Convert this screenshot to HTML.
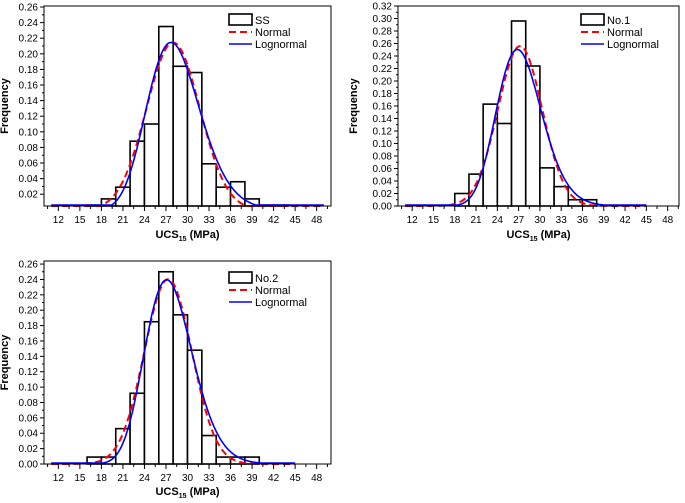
<!DOCTYPE html>
<html><head><meta charset="utf-8">
<style>
html,body{margin:0;padding:0;background:#fff;}
svg{display:block;font-family:"Liberation Sans",Arial,sans-serif;}
</style></head>
<body>
<svg id="root" width="685" height="503" viewBox="0 0 685 503" xmlns="http://www.w3.org/2000/svg"></svg>
<script>
// ---- data ----
const binStarts1 = [16,18,20,22,24,26,28,30,32,34,36,38,40,42];
const freq1 = [0.006,0.014,0.029,0.088,0.110,0.235,0.184,0.176,0.059,0.029,0.036,0.014,0.006,0.006];
const binStarts2 = [18,20,22,24,26,28,30,32,34,36];
const freq2 = [0.020,0.051,0.163,0.132,0.296,0.224,0.061,0.031,0.010,0.010];
const binStarts3 = [16,18,20,22,24,26,28,30,32,34,36,38];
const freq3 = [0.009,0.009,0.046,0.092,0.185,0.250,0.194,0.148,0.037,0.009,0.009,0.009];
// fit params: [mean, sd]
const normal1 = [28.0, 3.72];
const normal2 = [27.2, 3.12];
const normal3 = [27.3, 3.32];
// lognormal: [median, log-sigma]
const lognorm1 = [28.2, 0.133];
const lognorm2 = [27.2, 0.118];
const lognorm3 = [27.5, 0.122];
const xTicks = [12,15,18,21,24,27,30,33,36,39,42,45,48];
const yTicks1 = [0.02,0.04,0.06,0.08,0.10,0.12,0.14,0.16,0.18,0.20,0.22,0.24,0.26];
const yTicks2 = [0.00,0.02,0.04,0.06,0.08,0.10,0.12,0.14,0.16,0.18,0.20,0.22,0.24,0.26,0.28,0.30,0.32];
const yTicks3 = [0.00,0.02,0.04,0.06,0.08,0.10,0.12,0.14,0.16,0.18,0.20,0.22,0.24,0.26];
const legendNames = ["SS","No.1","No.2"];

const NS="http://www.w3.org/2000/svg";
const root=document.getElementById('root');
function mk(tag,attrs,parent){const e=document.createElementNS(NS,tag);for(const k in attrs)e.setAttribute(k,attrs[k]);(parent||root).appendChild(e);return e;}

function chart(c){
  const g=mk('g',{});
  
  
  const sx=v=>c.L+(v-c.x0)/(c.x1-c.x0)*(c.R-c.L);
  const sy=v=>c.B-(v-c.y0)/(c.y1-c.y0)*(c.B-c.T);
  // bars
  c.bins.forEach((b,i)=>{
    const y=sy(c.freq[i]);
    const r=mk('rect',{x:sx(b),y:y,width:sx(b+2)-sx(b),height:c.B-y,fill:'#fff',stroke:'#000','stroke-width':1.6},g);
    
    
  });
  // curves
  const pts1=[],pts2=[];
  for(let x=c.cx0;x<=c.cx1+1e-9;x+=0.1){
    const n=2*Math.exp(-0.5*((x-c.norm[0])/c.norm[1])**2)/(c.norm[1]*Math.sqrt(2*Math.PI));
    const mu=Math.log(c.logn[0]),s=c.logn[1];
    const l=2*Math.exp(-0.5*((Math.log(x)-mu)/s)**2)/(x*s*Math.sqrt(2*Math.PI));
    pts1.push(sx(x).toFixed(1)+','+Math.min(sy(n),c.B).toFixed(1));
    pts2.push(sx(x).toFixed(1)+','+Math.min(sy(l),c.B-1).toFixed(1));
  }
  const pn=mk('polyline',{points:pts1.join(' '),fill:'none',stroke:'#f00','stroke-width':2,'stroke-dasharray':'7,4'},g);
  
  
  const pl=mk('polyline',{points:pts2.join(' '),fill:'none',stroke:'#00f','stroke-width':1.6},g);
  
  
  // frame
  const fr=mk('rect',{x:c.L,y:c.T,width:c.R-c.L,height:c.B-c.T,fill:'none',stroke:'#000','stroke-width':1},g);
  
  
  // x ticks
  for(let v=Math.ceil(c.x0/1.5)*1.5; v<=c.x1; v+=1.5){
    const major=Math.abs(v/3-Math.round(v/3))<1e-6;
    mk('line',{x1:sx(v),x2:sx(v),y1:c.B,y2:c.B+(major?5:3),stroke:'#000','stroke-width':1},g);
  }
  xTicks.forEach(v=>{
    const t=mk('text',{x:sx(v),y:c.B+17,'text-anchor':'middle','font-size':10,fill:'#000'},g);
    t.textContent=v;
    
    
  });
  c.yt.forEach((v,i)=>{
    const y=sy(v);
    mk('line',{x1:c.L-4,x2:c.L,y1:y,y2:y,stroke:'#000','stroke-width':1},g);
    if(i<c.yt.length-1){const ym=sy(v+0.01);if(ym>c.T)mk('line',{x1:c.L-2,x2:c.L,y1:ym,y2:ym,stroke:'#000','stroke-width':1},g);}
    const t=mk('text',{x:c.L-6,y:y+3.5,'text-anchor':'end','font-size':10,fill:'#000'},g);
    t.textContent=v.toFixed(2);
    
    
  });
  // titles
  const xt=mk('text',{x:(c.L+c.R)/2,y:c.xty,'text-anchor':'middle','font-size':11,'font-weight':'bold',fill:'#000'},g);
  xt.innerHTML='UCS<tspan font-size="7" dy="3">15</tspan><tspan dy="-3"> (MPa)</tspan>';
  
  
  const yc=(c.T+c.B)/2;
  const yt=mk('text',{x:c.ytx,y:yc,'text-anchor':'middle','font-size':11,'font-weight':'bold',fill:'#000',transform:`rotate(-90 ${c.ytx} ${yc})`},g);
  yt.textContent='Frequency';
  
  
  // legend
  const lx=c.lx,ly=c.ly;
  const lg=mk('g',{},g);
  
  
  mk('rect',{x:lx,y:ly,width:23,height:11,fill:'#fff',stroke:'#000','stroke-width':1.6},lg);
  mk('line',{x1:lx,x2:lx+23,y1:ly+18,y2:ly+18,stroke:'#f00','stroke-width':2,'stroke-dasharray':'7,4'},lg);
  mk('line',{x1:lx,x2:lx+23,y1:ly+30,y2:ly+30,stroke:'#00f','stroke-width':1.6},lg);
  [[c.label,ly+10],['Normal',ly+22],['Lognormal',ly+34]].forEach(([s,y])=>{
    const t=mk('text',{x:lx+26,y:y,'font-size':11,fill:'#000'},lg);
    t.textContent=s;
    
    
  });
}

chart({name:'chart-ss',L:44,R:331,T:6,B:206,x0:10,x1:50,y0:0.0049,y1:0.2613,bins:binStarts1,freq:freq1,norm:normal1,logn:lognorm1,cx0:11,cx1:49,yt:yTicks1,xty:238,ytx:8,lx:229,ly:14,label:legendNames[0]});
chart({name:'chart-no1',L:398,R:679,T:6,B:206,x0:10,x1:49.6,y0:0,y1:0.32,bins:binStarts2,freq:freq2,norm:normal2,logn:lognorm2,cx0:11,cx1:45,yt:yTicks2,xty:238,ytx:357,lx:581,ly:14,label:legendNames[1]});
chart({name:'chart-no2',L:44,R:331,T:261,B:464,x0:10,x1:50,y0:0,y1:0.264,bins:binStarts3,freq:freq3,norm:normal3,logn:lognorm3,cx0:11,cx1:45,yt:yTicks3,xty:495,ytx:8,lx:229,ly:272,label:legendNames[2]});
</script>
</body></html>
